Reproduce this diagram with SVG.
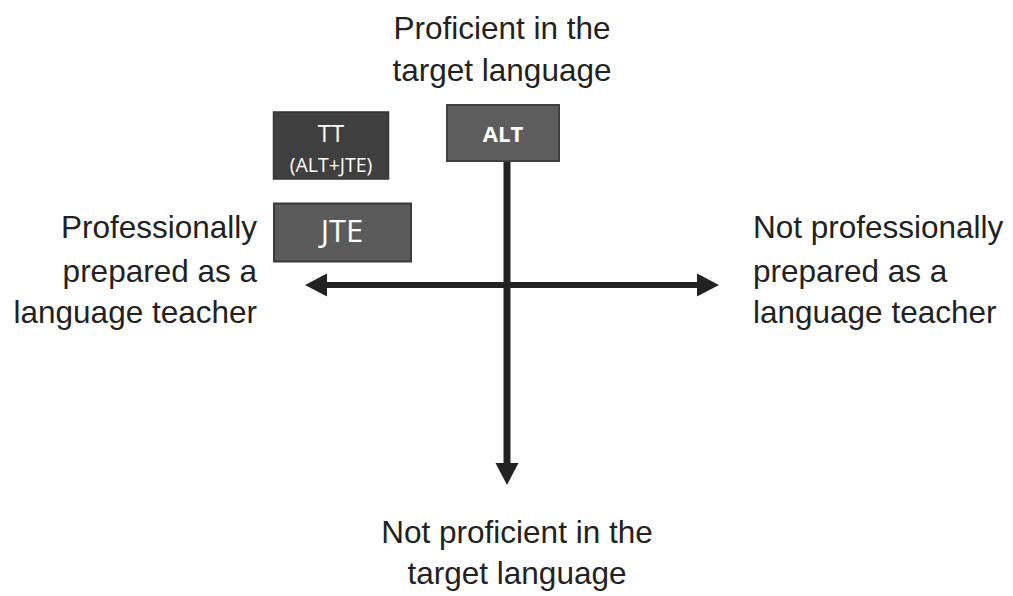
<svg xmlns="http://www.w3.org/2000/svg" width="1013" height="596" viewBox="0 0 1013 596">
<style>
.lbl{font-family:"Liberation Sans",Arial,sans-serif;font-size:31.5px;fill:#222}
.bx{font-family:"Open Sans","Liberation Sans",sans-serif;fill:#fff}
.ax{stroke:#222;fill:none}
</style>
<defs>
<marker id="ah" markerUnits="userSpaceOnUse" markerWidth="23" markerHeight="23" refX="0" refY="11.5" orient="auto-start-reverse" overflow="visible">
<path d="M0,0 L22,11.5 L0,23 z" fill="#222"/>
</marker>
</defs>
<rect width="1013" height="596" fill="#fff"/>
<g id="connectors">
<line class="ax" x1="327" y1="285" x2="697" y2="285" stroke-width="6" marker-start="url(#ah)" marker-end="url(#ah)"/>
<line class="ax" x1="507" y1="161" x2="507" y2="463" stroke-width="7" marker-end="url(#ah)"/>
</g>
<g id="top-label">
<text class="lbl" x="502" y="39" text-anchor="middle">Proficient in the</text>
<text class="lbl" x="502" y="81" text-anchor="middle">target language</text>
</g>
<g id="bottom-label">
<text class="lbl" x="517" y="543" text-anchor="middle">Not proficient in the</text>
<text class="lbl" x="517" y="584" text-anchor="middle">target language</text>
</g>
<g id="left-label">
<text class="lbl" x="257" y="238" text-anchor="end">Professionally</text>
<text class="lbl" x="257" y="282" text-anchor="end">prepared as a</text>
<text class="lbl" x="257" y="323" text-anchor="end">language teacher</text>
</g>
<g id="right-label">
<text class="lbl" x="753" y="238">Not professionally</text>
<text class="lbl" x="753" y="282">prepared as a</text>
<text class="lbl" x="753" y="323">language teacher</text>
</g>
<g id="node-tt">
<rect x="273.5" y="112" width="115" height="67" fill="#3f3f3f" stroke="#363636" stroke-width="1.5"/>
<text class="bx" x="331" y="142" text-anchor="middle" font-size="24">TT</text>
<text class="bx" x="331" y="172" text-anchor="middle" font-size="19.5">(ALT+JTE)</text>
</g>
<g id="node-jte">
<rect x="274" y="203.5" width="137" height="58" fill="#5b5b5b" stroke="#3a3a3a" stroke-width="2"/>
<text class="bx" x="342" y="242" text-anchor="middle" font-size="31">JTE</text>
</g>
<g id="node-alt">
<rect x="447" y="105" width="112" height="56" fill="#5d5d5d" stroke="#404040" stroke-width="2"/>
<text class="bx" x="503" y="142" text-anchor="middle" font-size="22" font-weight="bold">ALT</text>
</g>
</svg>
